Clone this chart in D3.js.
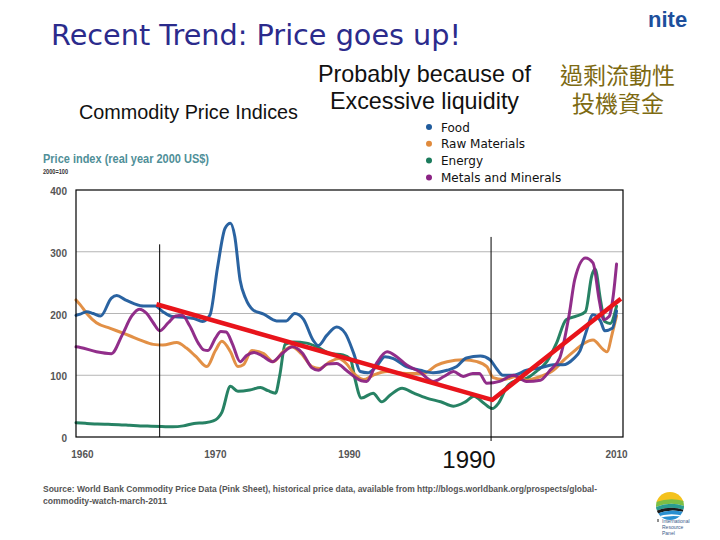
<!DOCTYPE html>
<html><head><meta charset="utf-8">
<script src="https://cdn.jsdelivr.net/npm/d3@7"></script>
<style>body{margin:0;background:#fff;} svg{display:block;}</style>
</head><body>
<svg id="chart" width="720" height="540"></svg>
<script>
// ---------- DATA ----------
const seriesNames = ["Food", "Raw Materials", "Energy", "Metals and Minerals"];
const seriesColors = ["#1f5b9c", "#e08a3c", "#1b7b5c", "#8b2384"];

const foodYears  = [1960,1960.4,1961,1961.6,1962.3,1963.3,1963.8,1964.6,1965.4,1966.3,1967.4,1968.1,1969,1970,1971,1971.8,1972.5,1973.2,1973.9,1974.4,1974.8,1975.3,1975.8,1976.5,1977.5,1978.7,1979.6,1980.4,1981.2,1982.1,1982.6,1983.4,1984.3,1985.1,1985.9,1986.5,1987.2,1988,1988.8,1989.6,1990.8,1992.1,1993.3,1994.6,1995.5,1996.4,1997.7,1998.6,1999.2,1999.8,2000.8,2002,2003.3,2004.5,2005.4,2006.4,2007,2007.6,2008.2,2008.9,2009.3,2010,2010.4];
const foodValues = [197,199,203,200,196,225,229,222,216,212,212,203,195,194,192,187,198,275,338,346,325,254,225,206,199,188,188,200,191,157,148,165,178,168,135,106,104,114,130,127,114,108,104,108,114,128,131,125,111,100,100,108,112,117,117,127,140,172,198,188,172,176,204];

const rawYears  = [1960,1960.4,1961,1961.9,1963.2,1964.1,1965,1966,1967.2,1968.1,1969.4,1970.3,1971.2,1972.2,1973,1973.6,1974.4,1975.1,1975.6,1976.4,1977.5,1978.4,1979.3,1980.1,1981,1982,1982.7,1983.7,1984.5,1985.2,1985.9,1986.8,1987.7,1989,1990.8,1992.4,1993.6,1994.6,1996.1,1997.4,1998.3,1998.9,1999.8,2001.1,2002,2003.3,2004.5,2005.5,2006.5,2007.3,2008.2,2009.2,2009.5,2010,2010.4];
const rawValues = [222,214,200,185,176,170,164,157,150,149,153,144,130,114,140,155,138,114,117,140,135,122,138,146,135,114,111,122,127,119,103,93,100,106,103,103,116,122,125,122,114,96,93,98,92,98,108,125,140,151,157,141,138,168,196];

const energyYears  = [1960,1961,1962,1963,1964,1965,1966,1967,1968,1969,1970,1971,1972,1972.8,1973.6,1974.4,1975.1,1976.2,1977.2,1977.9,1978.6,1979,1979.5,1980.3,1981.5,1982.7,1983.7,1984.9,1985.6,1986,1986.6,1987.7,1988.5,1989.3,1990.4,1991.5,1992.7,1994,1995.2,1996.3,1997.1,1998,1998.8,1999.4,2000.2,2001.1,2002,2002.9,2003.9,2004.8,2005.7,2006.7,2007.5,2008.1,2008.4,2008.9,2009.3,2009.8,2010.4];
const energyValues = [23,22,21,20.5,20,19,18,17.5,17,16.5,18,22,23,26,40,82,74,76,80,75,71,100,150,154,152,144,135,133,126,95,63,71,57,68,79,71,63,57,50,57,66,55,46,55,82,92,95,106,122,152,190,196,203,262,272,222,187,184,212];

const metalYears  = [1960,1960.4,1961.9,1963.3,1964.3,1965.2,1965.9,1966.6,1967.2,1967.8,1968.6,1969.3,1969.9,1970.6,1971.4,1971.9,1972.3,1973,1973.5,1974,1974.6,1975.3,1975.9,1976.6,1977.4,1978.3,1979.2,1980.2,1981.1,1982,1982.6,1983.4,1984.3,1985.2,1986,1986.6,1987.1,1988,1989,1989.9,1990.8,1992,1993.3,1994.3,1995.2,1996.1,1997,1997.6,1998.3,1999.5,2000.8,2002,2003.3,2004.2,2005.1,2006,2006.5,2007.5,2008.2,2008.8,2009.2,2009.7,2010.1,2010.4];
const metalValues = [146,145,138,135,165,196,207,200,185,172,185,196,197,180,152,141,140,160,171,170,150,122,132,137,131,122,135,146,136,112,108,118,119,108,97,91,90,119,138,130,117,106,90,98,106,98,103,103,87,90,100,90,92,108,128,200,255,290,282,220,190,195,230,280];

// red trend line (hand-drawn annotation)
const trendYears  = [1967.5, 1998.8, 2010.8];
const trendValues = [215, 60, 224];
// vertical marker lines: year, top value
const markerYears = [1967.8, 1998.7];
const markerTops  = [312, 324];

const yTicks = [0, 100, 200, 300, 400];
const gridValues = [100, 200, 300];
const xTickLabels = ["1960", "1970", "1990", "2010"];
const xTickYears  = [1960.55, 1972.95, 1985.45, 2010.35];

// ---------- DRAW ----------
const svg = d3.select("#chart");
const pL = 76, pR = 623, pT = 190, pB = 437;
const x = d3.scaleLinear().domain([1960, 2011]).range([pL, pR]);
const y = d3.scaleLinear().domain([0, 400]).range([pB, pT]);

// title
svg.append("text").attr("x", 51).attr("y", 45).attr("textLength", 410).attr("lengthAdjust", "spacingAndGlyphs")
  .attr("font-family", "DejaVu Sans").attr("font-size", 28).attr("fill", "#2b2b8c")
  .text("Recent Trend: Price goes up!");

// nite logo text
svg.append("text").attr("x", 648).attr("y", 27)
  .attr("font-family", "Liberation Sans").attr("font-weight", "bold").attr("font-size", 22)
  .attr("fill", "#1d4f9c").text("nite");

// annotations
svg.append("text").attr("x", 318).attr("y", 82).attr("textLength", 213).attr("lengthAdjust", "spacingAndGlyphs")
  .attr("font-family", "Liberation Sans").attr("font-size", 24).attr("fill", "#111").text("Probably because of");
svg.append("text").attr("x", 330).attr("y", 109).attr("textLength", 189).attr("lengthAdjust", "spacingAndGlyphs")
  .attr("font-family", "Liberation Sans").attr("font-size", 24).attr("fill", "#111").text("Excessive liquidity");
svg.append("text").attr("x", 79).attr("y", 119).attr("textLength", 219).attr("lengthAdjust", "spacingAndGlyphs")
  .attr("font-family", "Liberation Sans").attr("font-size", 19.5).attr("fill", "#111").text("Commodity Price Indices");
const cjkFont = "'Liberation Sans', 'Noto Sans CJK TC', 'Noto Sans CJK SC'";
svg.append("text").attr("x", 560).attr("y", 84).attr("font-family", cjkFont).attr("font-size", 23)
  .attr("fill", "#7d6a12").text("過剩流動性");
svg.append("text").attr("x", 572).attr("y", 112).attr("font-family", cjkFont).attr("font-size", 23)
  .attr("fill", "#7d6a12").text("投機資金");

// legend
const leg = svg.append("g");
seriesNames.forEach((n, i) => {
  const ly = 127 + i * 16.8;
  leg.append("circle").attr("cx", 429).attr("cy", ly).attr("r", 3).attr("fill", seriesColors[i]);
  leg.append("text").attr("x", 441).attr("y", ly + 4.5)
    .attr("font-family", "DejaVu Sans").attr("font-size", 12).attr("fill", "#111").text(n);
});

// axis header
svg.append("text").attr("x", 43).attr("y", 163).attr("textLength", 166).attr("lengthAdjust", "spacingAndGlyphs")
  .attr("font-family", "Liberation Sans").attr("font-weight", "bold").attr("font-size", 12.5)
  .attr("fill", "#4f8f98").text("Price index (real year 2000 US$)");
svg.append("text").attr("x", 43).attr("y", 174).attr("textLength", 25).attr("lengthAdjust", "spacingAndGlyphs")
  .attr("font-family", "Liberation Sans").attr("font-weight", "bold").attr("font-size", 7.5)
  .attr("fill", "#333").text("2000=100");

// grid
svg.append("g").selectAll("line").data(gridValues).join("line")
  .attr("x1", pL).attr("x2", pR).attr("y1", d => y(d)).attr("y2", d => y(d))
  .attr("stroke", "#b5b5b5").attr("stroke-width", 1);

// axes (labels only)
const yAxis = svg.append("g").attr("transform", `translate(${pL},0)`)
  .call(d3.axisLeft(y).tickValues(yTicks).tickSize(0).tickPadding(9));
yAxis.select(".domain").remove();
yAxis.selectAll("text").attr("font-family", "Liberation Sans").attr("font-weight", "bold")
  .attr("font-size", 10).attr("fill", "#555").attr("dy", "0.45em");

const xAxis = svg.append("g").attr("transform", `translate(0,${pB})`)
  .call(d3.axisBottom(x).tickValues(xTickYears).tickFormat((d, i) => xTickLabels[i]).tickSize(0).tickPadding(14));
xAxis.select(".domain").remove();
xAxis.selectAll("text").attr("font-family", "Liberation Sans").attr("font-weight", "bold")
  .attr("font-size", 10).attr("fill", "#555");

// series lines
const line = d3.line().x(d => x(d[0])).y(d => y(d[1])).curve(d3.curveMonotoneX);
const series = [
  [foodYears, foodValues], [rawYears, rawValues], [energyYears, energyValues], [metalYears, metalValues]
];
const drawOrder = [2, 1, 0, 3];
drawOrder.forEach(i => {
  const [ys, vs] = series[i];
  svg.append("path").datum(ys.map((yr, k) => [yr, vs[k]]))
    .attr("d", line).attr("fill", "none").attr("stroke", seriesColors[i])
    .attr("stroke-width", 3).attr("stroke-linejoin", "round").attr("stroke-linecap", "round")
    .attr("opacity", 0.95);
});

// frame
svg.append("rect").attr("x", pL).attr("y", pT).attr("width", pR - pL).attr("height", pB - pT)
  .attr("fill", "none").attr("stroke", "#000").attr("stroke-width", 1.2);

// vertical markers
svg.append("g").selectAll("line").data(markerYears).join("line")
  .attr("x1", d => x(d)).attr("x2", d => x(d))
  .attr("y1", (d, i) => y(markerTops[i])).attr("y2", (d, i) => i === 1 ? pB + 4 : pB)
  .attr("stroke", "#000").attr("stroke-width", 1);

// red trend line
svg.append("path").datum(trendYears.map((yr, k) => [yr, trendValues[k]]))
  .attr("d", d3.line().x(d => x(d[0])).y(d => y(d[1])))
  .attr("fill", "none").attr("stroke", "#e8141b").attr("stroke-width", 4.5).attr("stroke-linejoin", "round");

// big 1990 label
svg.append("text").attr("x", 469).attr("y", 468).attr("text-anchor", "middle")
  .attr("font-family", "Liberation Sans").attr("font-size", 24).attr("fill", "#111").text("1990");

// source
svg.append("text").attr("x", 43).attr("y", 492).attr("textLength", 554).attr("lengthAdjust", "spacingAndGlyphs")
  .attr("font-family", "Liberation Sans").attr("font-weight", "bold").attr("font-size", 9.5).attr("fill", "#555")
  .text("Source: World Bank Commodity Price Data (Pink Sheet), historical price data, available from http://blogs.worldbank.org/prospects/global-");
svg.append("text").attr("x", 43).attr("y", 504).attr("textLength", 124).attr("lengthAdjust", "spacingAndGlyphs")
  .attr("font-family", "Liberation Sans").attr("font-weight", "bold").attr("font-size", 9.5).attr("fill", "#555")
  .text("commodity-watch-march-2011");

// IRP logo (bottom right)
const lg = svg.append("g").attr("transform", "translate(670,506)");
lg.append("clipPath").attr("id", "lc").append("circle").attr("r", 14);
const lgc = lg.append("g").attr("clip-path", "url(#lc)");
lgc.append("rect").attr("x", -14).attr("y", -14).attr("width", 28).attr("height", 10).attr("fill", "#f4c21c");
lgc.append("path").attr("d", "M-14,-4 Q0,-9 14,-5 L14,0 Q0,-5 -14,1 Z").attr("fill", "#7cbf45");
lgc.append("path").attr("d", "M-14,1 Q0,-5 14,0 L14,4 Q0,-1 -14,5 Z").attr("fill", "#2a9d8f");
lgc.append("path").attr("d", "M-14,5 Q0,-1 14,4 L14,6 Q0,2 -14,8 Z").attr("fill", "#1b1b1b");
lgc.append("path").attr("d", "M-14,8 Q0,2 14,6 L14,14 L-14,14 Z").attr("fill", "#2a8fd0");
lgc.append("path").attr("d", "M-14,11 Q0,6 14,10 L14,11 Q0,8 -14,13 Z").attr("fill", "#fff");
["International", "Resource", "Panel"].forEach((t, i) => {
  svg.append("text").attr("x", 662).attr("y", 523 + i * 6).attr("font-family", "Liberation Sans")
    .attr("font-size", 5).attr("fill", "#3a5a8a").text(t);
});
svg.append("line").attr("x1", 658).attr("x2", 658).attr("y1", 519).attr("y2", 522).attr("stroke", "#222").attr("stroke-width", 1);
</script>
</body></html>
